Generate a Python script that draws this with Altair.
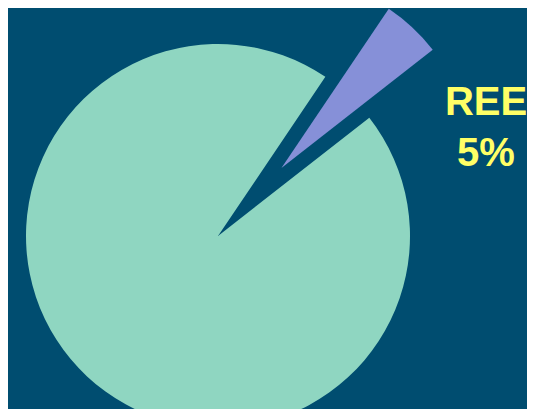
import math
import altair as alt
import pandas as pd

# Data
categories = ["REE", "Other"]
values = [5, 95]
label_lines = ["REE", "5%"]

# Styling / layout
BG = "#004d70"
MINT = "#8fd6c1"
PURPLE = "#8690d8"
YELLOW = "#ffff66"
W, H = 519, 401
CX, CY = 210, 226
R = 192
START_DEG = 34
EXPLODE = 93

df = pd.DataFrame({"category": categories, "value": values})
total = sum(values)

start_rad = math.radians(START_DEG)
theta_scale = alt.Scale(domain=[0, total], range=[start_rad, start_rad + 2 * math.pi])
color_scale = alt.Scale(domain=categories, range=[PURPLE, MINT])

# offset of exploded slice: middle of REE slice
mid = start_rad + 2 * math.pi * (values[0] / 2) / total
dx = EXPLODE * math.sin(mid)
dy = -EXPLODE * math.cos(mid)

base = alt.Chart(df).transform_calculate(
    order="datum.category == 'REE' ? 0 : 1"
).transform_stack(
    stack="value", groupby=[], as_=["s0", "s1"],
    sort=[alt.SortField("order")]
)

main = base.transform_filter("datum.category != 'REE'").mark_arc(radius=R).encode(
    theta=alt.Theta("s0:Q", scale=theta_scale),
    theta2="s1:Q",
    color=alt.Color("category:N", scale=color_scale, legend=None),
    x=alt.value(CX),
    y=alt.value(CY),
)

ree = base.transform_filter("datum.category == 'REE'").mark_arc(radius=R).encode(
    theta=alt.Theta("s0:Q", scale=theta_scale),
    theta2="s1:Q",
    color=alt.Color("category:N", scale=color_scale, legend=None),
    x=alt.value(CX + dx),
    y=alt.value(CY + dy),
)

lab_df = pd.DataFrame({"t": label_lines, "row": [0, 1]})
labels = alt.Chart(lab_df).mark_text(
    font="Liberation Sans", fontWeight="bold", fontSize=40,
    color=YELLOW, align="center", baseline="alphabetic"
).encode(
    text="t:N",
    x=alt.value(478),
    y=alt.Y("row:Q", scale=alt.Scale(domain=[0, 1], range=[105, 156], nice=False, zero=False), axis=None),
)

chart = alt.layer(main, ree, labels).properties(
    width=W, height=H, padding=0,
    autosize=alt.AutoSizeParams(type="fit", contains="padding"),
    background=BG,
).configure_view(stroke=None)

chart.save("out.html", embed_options={"renderer": "svg", "actions": False})
